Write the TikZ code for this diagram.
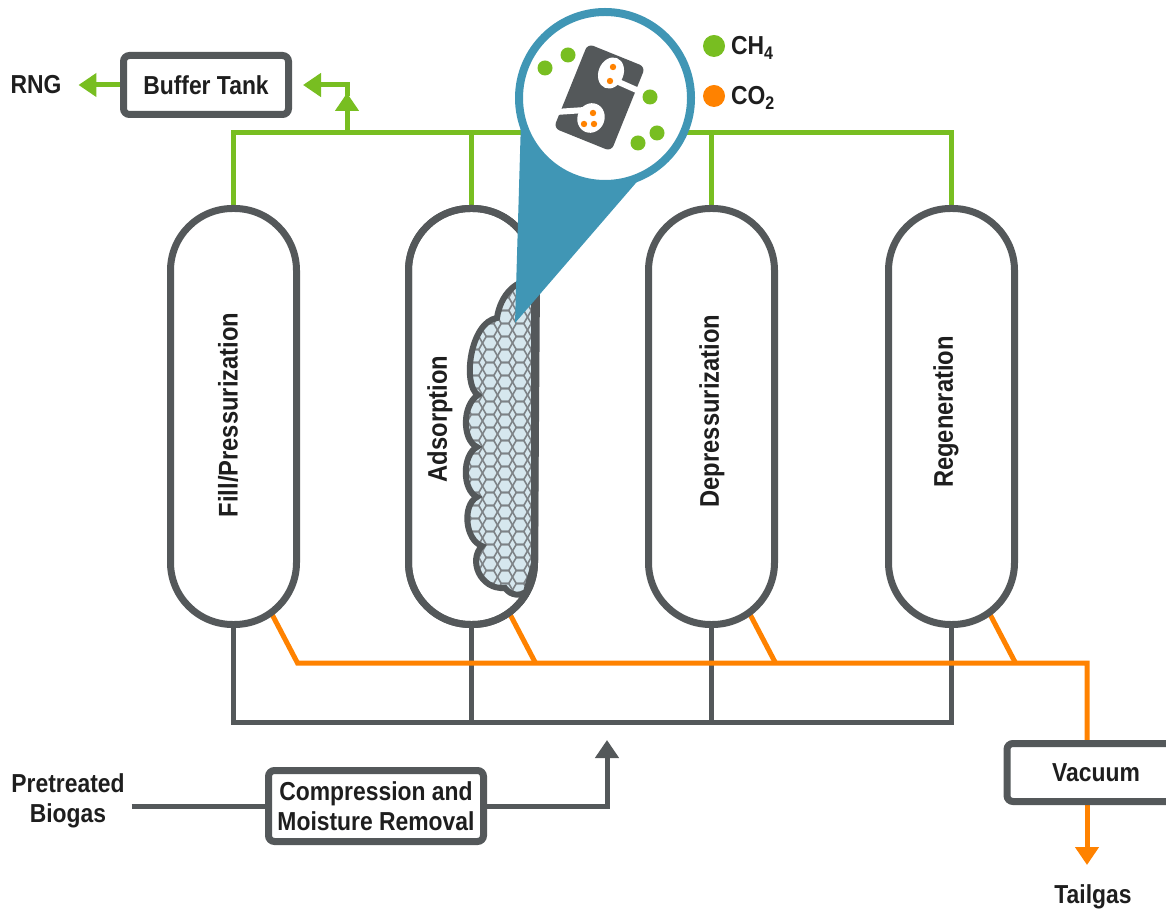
\documentclass[tikz,border=0pt]{standalone}
\usepackage{fontspec}
\setmainfont{Liberation Sans}[FakeStretch=0.88]
\usetikzlibrary{arrows.meta,backgrounds,calc}

\definecolor{pipegray}{RGB}{84,88,90}
\definecolor{gasgreen}{RGB}{120,190,33}
\definecolor{gasorange}{RGB}{255,130,0}
\definecolor{lensblue}{RGB}{64,150,181}
\definecolor{bedblue}{RGB}{214,231,238}
\definecolor{hexgray}{RGB}{125,130,134}
\definecolor{inkblack}{RGB}{30,30,30}

% outline of the adsorbent bed inside the second column
\newcommand{\bedoutline}{(537,281) .. controls (516,277) and (500,296) .. (497,318)
  .. controls (470,322) and (462,385) .. (478,395)
  .. controls (462,405) and (462,440) .. (477,447)
  .. controls (462,455) and (462,490) .. (477,497)
  .. controls (462,505) and (465,540) .. (482,546)
  .. controls (468,560) and (480,590) .. (505,588)
  .. controls (511,596) and (520,596) .. (526,592)
  -- (535,560) -- cycle}

\begin{document}
\begin{tikzpicture}[x=0.5pt, y=-0.5pt,
  every node/.style={font=\bfseries\fontsize{13}{15}\selectfont, text=inkblack, align=center},
  tank/.style={draw=pipegray, line width=3.5pt, fill=white, minimum width=63pt,
    minimum height=208pt, rounded corners=31pt, inner sep=0pt},
  stage/.style={rotate=90, font=\bfseries\fontsize{13.5}{15}\selectfont},
  box/.style={draw=pipegray, line width=3.5pt, fill=white, rounded corners=3pt},
  greenpipe/.style={draw=gasgreen, line width=2.5pt},
  graypipe/.style={draw=pipegray, line width=2.5pt},
  orangepipe/.style={draw=gasorange, line width=2.5pt},
  tip/.style={-{Triangle[length=9pt, width=11.5pt]}},
  hexline/.style={draw=hexgray, line width=0.8pt},
  bedline/.style={draw=pipegray, line width=3pt}]
  \useasboundingbox (0,0) rectangle (1166,913);

  % columns
  \node[tank] (t1) at (233.5,416.5) {};
  \node[tank] (t2) at (471.5,416.5) {};
  \node[tank] (t3) at (711.5,416.5) {};
  \node[tank] (t4) at (951.5,416.5) {};
  \node[stage] at (228,415) {Fill/Pressurization};
  \node[stage] at (440,419) {Adsorption};
  \node[stage] at (712,411) {Depressurization};
  \node[stage] at (946,412) {Regeneration};

  % adsorbent bed, honeycomb of flat hexagons
  \begin{scope}
    \clip \bedoutline;
    \fill[bedblue] (450,270) rectangle (545,610);
    \foreach \i in {0,...,6} {
      \foreach \j in {0,...,26} {
        \pgfmathsetmacro{\hx}{460+15*\i}
        \pgfmathsetmacro{\hy}{278+13*\j}
        \draw[hexline] (\hx,\hy) +(0:7.5) -- +(60:7.5) -- +(120:7.5) -- +(180:7.5)
          -- +(240:7.5) -- +(300:7.5) -- cycle;
      }
    }
  \end{scope}
  \draw[bedline] \bedoutline;
  \node[tank, fill=none] at (t2.center) {};

  % magnifier
  \fill[lensblue] (521,120) -- (515,323) -- (673,140) -- cycle;
  \node[circle, draw=lensblue, line width=4pt, fill=white, minimum size=86pt,
    inner sep=0pt] (lens) at (605,98) {};
  \node[fill=pipegray, rounded corners=3pt, minimum width=31pt, minimum height=45.5pt,
    inner sep=0pt, rotate=-22] (sorbent) at (599.5,97.5) {};
  \fill[white] (611,73) circle[x radius=12.5, y radius=16, rotate=-22];
  \fill[white] (591,118) circle[x radius=13.5, y radius=15, rotate=-22];
  \draw[white, line width=3pt] (614,80) -- (641,92);
  \draw[white, line width=3pt] (585,110) -- (556,112);
  \foreach \p in {(613,67),(610,81),(593,113),(584,124),(594,124)}
    \fill[gasorange] \p circle[radius=3.2];
  \foreach \p in {(545,68),(568,55),(650,97),(638,143),(657,133)}
    \fill[gasgreen] \p circle[radius=7.5];

  % legend
  \fill[gasgreen] (714,46) circle[radius=11];
  \node[anchor=west] (ch4) at (724,48) {CH\textsubscript{4}};
  \fill[gasorange] (714,96) circle[radius=11];
  \node[anchor=west] (co2) at (724,98) {CO\textsubscript{2}};

  % units
  \node[box, minimum width=82.5pt, minimum height=29.5pt] (buf) at (206,85) {Buffer Tank};
  \node (rng) at (36,85) {RNG};
  \node[box, minimum width=107.5pt, minimum height=35.5pt] (comp) at (376,806)
    {Compression and\\Moisture Removal};
  \node (feed) at (68,801) {Pretreated\\Biogas};
  \node[box, minimum width=89pt, minimum height=29pt] (vac) at (1096,772.5) {Vacuum};
  \node (tail) at (1093,897) {Tailgas};

  \coordinate (hdr) at (233.5,133);
  \coordinate (tap) at (347,133);
  \coordinate (base) at (233.5,722);
  \coordinate (drop) at (1087,663);

  \begin{pgfonlayer}{background}
    % product header
    \draw[greenpipe] (t1.north) |- (t4.north |- hdr) -- (t4.north);
    \draw[greenpipe] (t2.north) -- (t2.north |- hdr);
    \draw[greenpipe] (t3.north) -- (t3.north |- hdr);
    \draw[greenpipe, tip] (tap) -- ++(0,-40);
    \draw[greenpipe, tip, shorten >=5.5pt] ($(tap)+(0,-37)$) |- (buf.east);
    \draw[greenpipe, tip, shorten >=5pt] (buf.west) -- (rng.east);
    % feed header
    \draw[graypipe] (t1.south) |- (t4.south |- base) -- (t4.south);
    \draw[graypipe] (t2.south) -- (t2.south |- base);
    \draw[graypipe] (t3.south) -- (t3.south |- base);
    \draw[graypipe] (feed.east |- comp.west) -- (comp.west);
    \draw[graypipe, tip] (comp.east) -| (607,740);
    % tail gas header
    \draw[orangepipe] ($(t1.south)+(31,-28)$) -- ($(t1.south)+(64,35)$) -- (drop)
      -- (drop |- vac.north);
    \foreach \t in {t2,t3,t4}
      \draw[orangepipe] ($(\t.south)+(31,-28)$) -- ($(\t.south)+(64,35)$);
    \draw[orangepipe, tip] (drop |- vac.south) -- ++(0,60);
  \end{pgfonlayer}
\end{tikzpicture}
\end{document}
